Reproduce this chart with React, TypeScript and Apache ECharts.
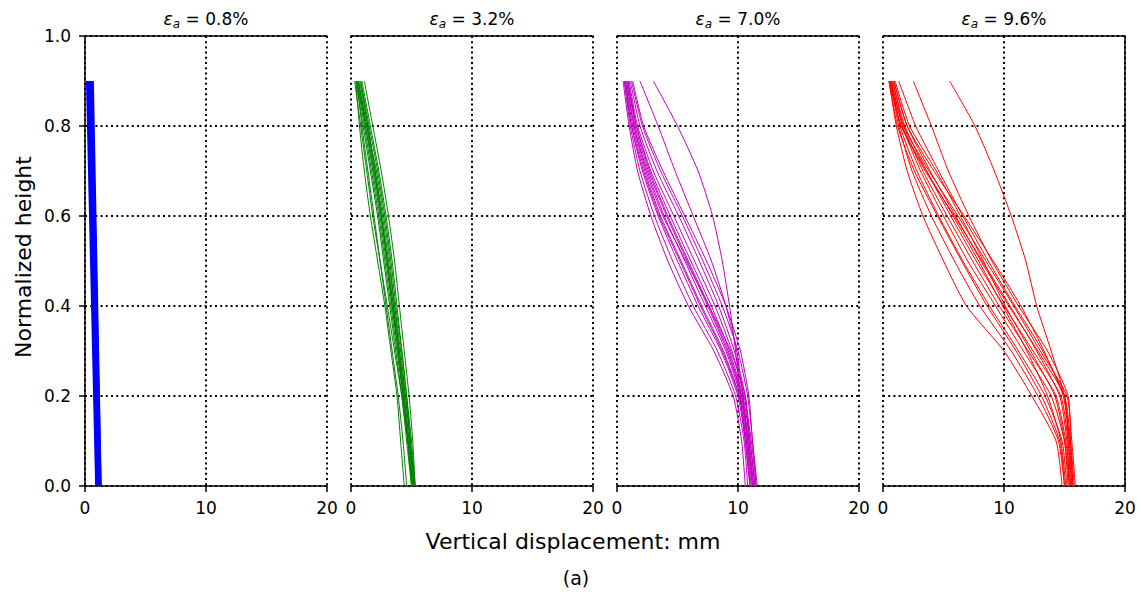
import React, { useEffect, useRef } from "react";
import * as echarts from "echarts";

// Panel headings: axial strain for each snapshot
const strainLabels = ["0.8%", "3.2%", "7.0%", "9.6%"];
const panelColors = ["#0000ff", "#008000", "#bf00bf", "#ff0000"];
const lineWidths = [2, 1, 1, 1];
const yTickLabels = ["0.0", "0.2", "0.4", "0.6", "0.8", "1.0"];

// Normalized heights at which displacements were sampled
const blueHeights = [0, 0.9];
const heights = [0, 0.1, 0.2, 0.3, 0.4, 0.5, 0.6, 0.7, 0.8, 0.9];

// Vertical displacement (mm) per profile, ordered by height
const blueRuns = [
  [0.92, 0.16],
  [0.97, 0.24],
  [1.01, 0.28],
  [1.05, 0.33],
  [1.09, 0.37],
  [1.13, 0.41],
  [1.18, 0.46],
  [1.24, 0.52],
  [1.29, 0.58],
  [1.3, 0.65],
];

const greenRuns = [
  [5.3, 5.1, 4.8, 4.4, 4.0, 3.6, 3.1, 2.5, 1.8, 1.1],
  [4.4, 4.1, 3.8, 3.3, 2.8, 2.2, 1.6, 1.1, 0.7, 0.4],
  [4.6, 4.3, 3.9, 3.4, 2.9, 2.4, 1.9, 1.4, 0.9, 0.5],
  [5.0, 4.6, 4.2, 3.7, 3.2, 2.7, 2.2, 1.6, 1.0, 0.4],
  [5.1, 4.7, 4.3, 3.8, 3.3, 2.8, 2.3, 1.7, 1.1, 0.5],
  [5.1, 4.7, 4.3, 3.9, 3.4, 2.9, 2.4, 1.8, 1.2, 0.6],
  [5.2, 4.8, 4.4, 3.9, 3.5, 3.0, 2.5, 1.9, 1.3, 0.6],
  [5.2, 4.8, 4.4, 4.0, 3.5, 3.0, 2.5, 1.9, 1.2, 0.5],
  [5.3, 4.9, 4.5, 4.0, 3.6, 3.1, 2.6, 2.0, 1.4, 0.7],
  [5.2, 4.9, 4.6, 4.2, 3.7, 3.3, 2.8, 2.2, 1.5, 0.8],
  [5.0, 4.7, 4.3, 3.9, 3.4, 3.0, 2.5, 2.0, 1.4, 0.8],
  [5.3, 5.0, 4.6, 4.2, 3.8, 3.4, 2.9, 2.3, 1.6, 0.9],
  [5.1, 4.7, 4.2, 3.6, 3.0, 2.4, 1.8, 1.3, 0.8, 0.3],
  [5.2, 4.9, 4.5, 4.1, 3.6, 3.2, 2.7, 2.1, 1.3, 0.6],
];

const magentaRuns = [
  [11.0, 10.6, 10.2, 9.8, 9.3, 8.7, 7.9, 6.7, 5.0, 3.0],
  [11.2, 10.8, 10.4, 9.9, 9.0, 7.8, 6.3, 4.8, 3.4, 1.9],
  [10.6, 10.3, 9.6, 8.0, 5.9, 4.2, 2.8, 1.7, 1.0, 0.5],
  [10.8, 10.5, 9.8, 8.3, 6.3, 4.6, 3.1, 1.9, 1.1, 0.6],
  [11.0, 10.6, 10.0, 8.6, 6.7, 5.0, 3.4, 2.1, 1.2, 0.7],
  [11.1, 10.7, 10.1, 8.8, 7.0, 5.3, 3.6, 2.3, 1.3, 0.7],
  [11.2, 10.8, 10.2, 9.0, 7.3, 5.6, 3.9, 2.5, 1.4, 0.8],
  [11.3, 10.9, 10.3, 9.1, 7.5, 5.8, 4.1, 2.6, 1.5, 0.9],
  [11.4, 11.0, 10.4, 9.3, 7.8, 6.1, 4.4, 2.8, 1.6, 0.9],
  [11.5, 11.1, 10.5, 9.5, 8.1, 6.4, 4.7, 3.0, 1.7, 1.0],
  [11.3, 10.9, 10.6, 9.7, 8.4, 6.8, 5.1, 3.3, 1.9, 1.1],
  [11.5, 11.2, 10.8, 10.0, 8.7, 7.1, 5.4, 3.6, 2.1, 1.2],
  [11.4, 11.0, 10.6, 9.4, 7.6, 5.7, 3.8, 2.4, 1.4, 0.8],
  [11.2, 10.8, 10.3, 9.2, 7.6, 5.9, 4.2, 2.7, 1.6, 0.9],
  [11.6, 11.2, 10.9, 10.2, 9.0, 7.4, 5.6, 3.8, 2.2, 1.3],
  [11.0, 10.7, 10.1, 8.7, 6.9, 5.2, 3.5, 2.2, 1.2, 0.6],
];

const redRuns = [
  [15.6, 15.4, 15.0, 13.9, 12.7, 11.8, 10.6, 9.2, 7.6, 5.5],
  [15.7, 15.5, 15.3, 13.6, 11.2, 9.0, 7.1, 5.4, 4.0, 2.5],
  [15.5, 15.3, 15.0, 13.2, 10.9, 8.7, 6.6, 4.6, 2.7, 1.3],
  [14.8, 14.3, 12.3, 10.0, 6.9, 5.0, 3.3, 2.0, 1.1, 0.5],
  [15.0, 14.5, 12.8, 10.6, 8.0, 5.9, 4.0, 2.4, 1.3, 0.6],
  [15.2, 14.8, 13.4, 11.2, 8.8, 6.6, 4.6, 2.8, 1.4, 0.7],
  [15.4, 15.0, 13.9, 11.6, 9.3, 7.0, 5.0, 3.1, 1.6, 0.7],
  [15.5, 15.1, 14.3, 12.0, 9.6, 7.4, 5.3, 3.3, 1.7, 0.8],
  [15.6, 15.3, 14.7, 12.4, 10.0, 7.7, 5.6, 3.6, 1.8, 0.8],
  [15.8, 15.5, 15.0, 12.8, 10.4, 8.1, 6.0, 3.9, 2.0, 0.9],
  [15.3, 15.0, 14.2, 12.2, 10.1, 8.3, 6.4, 4.4, 2.2, 1.0],
  [15.9, 15.6, 15.2, 13.0, 10.8, 8.5, 6.2, 3.8, 1.7, 0.6],
  [15.1, 14.7, 13.6, 11.9, 9.9, 7.9, 5.8, 3.6, 1.5, 0.5],
  [15.4, 15.2, 14.6, 12.7, 10.5, 8.2, 5.9, 3.5, 1.5, 0.6],
  [15.7, 15.4, 14.9, 13.3, 11.4, 9.1, 6.7, 4.2, 2.0, 0.9],
  [15.0, 14.6, 13.1, 11.0, 8.6, 6.5, 4.5, 2.6, 1.2, 0.5],
];

const panelRuns = [blueRuns, greenRuns, magentaRuns, redRuns];
const panelHeights = [blueHeights, heights, heights, heights];

const FONT = "DejaVu Sans";
const PANEL_LEFT = 85;
const PANEL_STEP = 266;
const PANEL_WIDTH = 242;
const PANEL_TOP = 36;
const PANEL_HEIGHT = 450;

const gridLine = {
  show: true,
  lineStyle: { color: "#000", width: 2, type: [2, 3.2] as number[] },
};

export default function App() {
  const ref = useRef<HTMLDivElement>(null);

  useEffect(() => {
    if (!ref.current) return;
    const chart = echarts.init(ref.current, null, { renderer: "svg" });

    const grids = strainLabels.map((_, i) => ({
      left: PANEL_LEFT + PANEL_STEP * i,
      top: PANEL_TOP,
      width: PANEL_WIDTH,
      height: PANEL_HEIGHT,
      show: false,
    }));

    const bottomAxes = strainLabels.map((_, i) => ({
      type: "value",
      gridIndex: i,
      position: "bottom",
      min: 0,
      max: 20,
      interval: 10,
      axisLine: { show: true, onZero: false, lineStyle: { color: "#000", width: 1.5 } },
      axisTick: { show: true, inside: false, length: 6, lineStyle: { color: "#000", width: 1.5 } },
      axisLabel: { show: true, color: "#000", fontFamily: FONT, fontSize: 17, margin: 13 },
      splitLine: gridLine,
    }));

    const topAxes = strainLabels.map((_, i) => ({
      type: "value",
      gridIndex: i,
      position: "top",
      min: 0,
      max: 20,
      interval: 10,
      axisLine: { show: true, onZero: false, lineStyle: { color: "#000", width: 1.5 } },
      axisTick: { show: false },
      axisLabel: { show: false },
      splitLine: { show: false },
    }));

    const leftAxes = strainLabels.map((_, i) => ({
      type: "value",
      gridIndex: i,
      position: "left",
      min: 0,
      max: 1,
      interval: 0.2,
      axisLine: { show: i === 0, onZero: false, lineStyle: { color: "#000", width: 1.5 } },
      axisTick: { show: i === 0, inside: false, length: 6, lineStyle: { color: "#000", width: 1.5 } },
      axisLabel: {
        show: i === 0,
        color: "#000",
        fontFamily: FONT,
        fontSize: 17,
        margin: 14,
        formatter: (v: number) => yTickLabels[Math.round(v / 0.2)] ?? "",
      },
      splitLine: gridLine,
    }));

    const rightAxis = {
      type: "value",
      gridIndex: 3,
      position: "right",
      min: 0,
      max: 1,
      interval: 0.2,
      axisLine: { show: true, onZero: false, lineStyle: { color: "#000", width: 1.5 } },
      axisTick: { show: false },
      axisLabel: { show: false },
      splitLine: { show: false },
    };

    const series: any[] = [];
    panelRuns.forEach((runs, p) => {
      const hs = panelHeights[p];
      runs.forEach((run) => {
        series.push({
          type: "line",
          xAxisIndex: p,
          yAxisIndex: p,
          data: run.map((x, k) => [x, hs[k]]),
          symbol: "none",
          showSymbol: false,
          silent: true,
          smooth: 0.2,
          lineStyle: { color: panelColors[p], width: lineWidths[p] },
          z: 3,
        });
      });
    });

    const titles = strainLabels.map((s, i) => ({
      type: "text",
      x: PANEL_LEFT + PANEL_STEP * i + PANEL_WIDTH / 2,
      y: 19,
      style: {
        text: `{e|ε}{s|a}{n| = ${s}}`,
        align: "center",
        verticalAlign: "middle",
        fill: "#000",
        fontFamily: FONT,
        fontSize: 17,
        rich: {
          e: { fontFamily: FONT, fontSize: 17, fontStyle: "italic", fill: "#000" },
          s: {
            fontFamily: FONT,
            fontSize: 12,
            fontStyle: "italic",
            fill: "#000",
            padding: [10, 0, 0, 0],
          },
          n: { fontFamily: FONT, fontSize: 17, fill: "#000" },
        },
      },
    }));

    chart.setOption({
      animation: false,
      backgroundColor: "#fff",
      grid: grids,
      xAxis: [...bottomAxes, ...topAxes],
      yAxis: [...leftAxes, rightAxis],
      series,
      graphic: [
        ...titles,
        {
          type: "text",
          x: 23,
          y: 257,
          rotation: Math.PI / 2,
          style: {
            text: "Normalized height",
            align: "center",
            verticalAlign: "middle",
            fill: "#000",
            fontFamily: FONT,
            fontSize: 22,
          },
        },
        {
          type: "text",
          x: 573,
          y: 541,
          style: {
            text: "Vertical displacement: mm",
            align: "center",
            verticalAlign: "middle",
            fill: "#000",
            fontFamily: FONT,
            fontSize: 22,
          },
        },
        {
          type: "text",
          x: 576,
          y: 578,
          style: {
            text: "(a)",
            align: "center",
            verticalAlign: "middle",
            fill: "#000",
            fontFamily: FONT,
            fontSize: 19,
          },
        },
      ],
    });

    return () => chart.dispose();
  }, []);

  return (
    <div
      ref={ref}
      style={{ position: "fixed", left: 0, top: 0, width: 1141, height: 594, background: "#fff" }}
    />
  );
}
